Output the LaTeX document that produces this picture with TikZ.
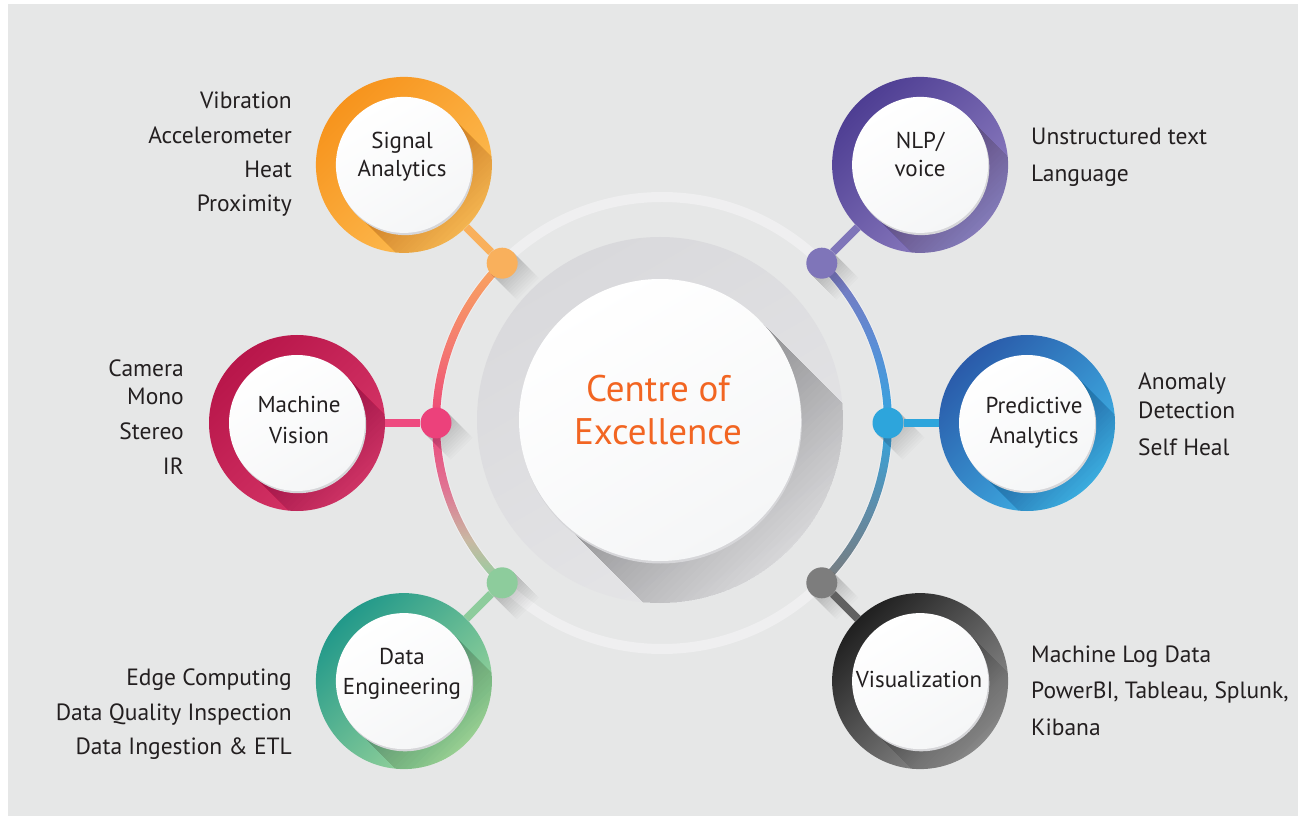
\documentclass[tikz,border=0pt]{standalone}
\usepackage{fontspec}
\setmainfont{PT Sans}
\usetikzlibrary{calc}

\definecolor{bgc}{HTML}{E6E7E7}
\definecolor{faint}{HTML}{EFEFF0}
\definecolor{discA}{HTML}{D9D9DC}
\definecolor{discB}{HTML}{E5E5E7}
\definecolor{rim}{HTML}{D6D6D9}
\definecolor{paper}{HTML}{F5F6F7}
\definecolor{txt}{HTML}{231F20}
\definecolor{coe}{HTML}{F26522}
% left half of the ring
\definecolor{laO}{HTML}{F9A65E}
\definecolor{laC}{HTML}{F47C70}
\definecolor{laM}{HTML}{EC4479}
\definecolor{laP}{HTML}{E07393}
\definecolor{laT}{HTML}{C8B8A2}
\definecolor{laG}{HTML}{8ED0A0}
% right half of the ring
\definecolor{raP}{HTML}{7E74BA}
\definecolor{raB}{HTML}{5B8ED6}
\definecolor{raC}{HTML}{33A5DF}
\definecolor{raS}{HTML}{5E8DAA}
\definecolor{raG}{HTML}{7A7B7C}
% branch colours
\definecolor{sigD}{HTML}{F7941D}\definecolor{sigL}{HTML}{FDBE55}\definecolor{sigDot}{HTML}{F9B05C}
\definecolor{mvD}{HTML}{B8164A}\definecolor{mvL}{HTML}{D8386A}\definecolor{mvDot}{HTML}{EC417B}\definecolor{mvLine}{HTML}{EE4B80}
\definecolor{deD}{HTML}{22998A}\definecolor{deL}{HTML}{A3D99C}\definecolor{deDot}{HTML}{8DCC9C}
\definecolor{nlpD}{HTML}{4E3E93}\definecolor{nlpL}{HTML}{8F80C2}\definecolor{nlpDot}{HTML}{7F75B9}
\definecolor{paD}{HTML}{2A5BAA}\definecolor{paL}{HTML}{40B6E8}\definecolor{paDot}{HTML}{2DA5DC}
\definecolor{visD}{HTML}{202020}\definecolor{visL}{HTML}{939393}\definecolor{visDot}{HTML}{7D7D7D}\definecolor{visLine}{HTML}{616161}

\pgfdeclareverticalshading{leftarc}{100bp}{color(0bp)=(laG); color(25bp)=(laG); color(32bp)=(laT); color(40bp)=(laP); color(50bp)=(laM); color(62bp)=(laC); color(75bp)=(laO); color(100bp)=(laO)}
\pgfdeclareverticalshading{rightarc}{100bp}{color(0bp)=(raG); color(25bp)=(raG); color(37bp)=(raS); color(50bp)=(raC); color(62bp)=(raB); color(75bp)=(raP); color(100bp)=(raP)}

% one branch: dot on the ring, connector and the ringed disc
% #1 id, #2 angle, #3 dark ring colour, #4 light ring colour, #5 dot colour, #6 connector colour
\newcommand\branch[6]{%
  \coordinate (d#1) at ($(C)+(#2:226)$);
  \node[circle, minimum size=176pt] (s#1) at ($(C)+(#2:365)$) {};
  \begin{scope}[shift={(d#1)}, rotate=-45]
    \foreach \k in {1,...,14} \fill[black, opacity=0.016] (0,-15.5) rectangle (\k*2.6, 15.5);
  \end{scope}
  \node[circle, minimum size=31pt, fill=#5] (p#1) at (d#1) {};
  \draw[line width=8pt, #6] (s#1) -- (p#1);
  \shade[top color=#3, bottom color=#4, shading angle=45] (s#1.center) circle[radius=88];
  \begin{scope}
    \clip (s#1.center) circle[radius=88];
    \begin{scope}[shift={(s#1.center)}, rotate=-45]
      \foreach \k in {1,...,24} \fill[black, opacity=0.009] (0,-68) rectangle (\k*4.5, 68);
    \end{scope}
  \end{scope}
  \fill[rim] ($(s#1.center)+(1.2,-2.2)$) circle[radius=68];
  \shade[top color=white, bottom color=paper, shading angle=30] (s#1.center) circle[radius=68];
}

\tikzset{
  lst/.style={font=\fontsize{23.5}{28}\selectfont, text=txt, inner sep=0pt},
  lbl/.style={font=\fontsize{23}{27}\selectfont, text=txt, inner sep=0pt, anchor=base},
  coretxt/.style={font=\fontsize{37}{44}\selectfont, text=coe, inner sep=0pt, anchor=base},
}

\begin{document}
\begin{tikzpicture}[x=1pt, y=1pt]
\useasboundingbox (0,0) rectangle (1300,820);
\fill[bgc] (8,4) rectangle (1298,816);

\coordinate (C) at (662,397);
\coordinate (W) at (660,400);

% pale outer track
\draw[faint, line width=10pt] (C) circle[radius=226];

% inner grey disc with the long shadow of the core
\shade[top color=discA, bottom color=discB, shading angle=30] (W) circle[radius=183];
\begin{scope}
  \clip (W) circle[radius=183];
  \begin{scope}[shift={(W)}, rotate=-45]
    \foreach \k in {1,...,40} \fill[black, opacity=0.008] (0,-141) rectangle (\k*5.5, 141);
  \end{scope}
\end{scope}
\fill[rim] ($(W)+(0.8,-2.5)$) circle[radius=141];
\node[circle, minimum size=282pt, inner sep=0pt, top color=white, bottom color=paper, shading angle=30] (core) at (W) {};

% coloured halves of the ring
\shade[shading=leftarc] ($(C)+(135:230)$) arc[start angle=135, end angle=225, radius=230]
  -- ($(C)+(225:222)$) arc[start angle=225, end angle=135, radius=222] -- cycle;
\shade[shading=rightarc] ($(C)+(-45:230)$) arc[start angle=-45, end angle=45, radius=230]
  -- ($(C)+(45:222)$) arc[start angle=45, end angle=-45, radius=222] -- cycle;

% branches
\branch{1}{135}{sigD}{sigL}{sigDot}{sigDot}
\branch{2}{180}{mvD}{mvL}{mvDot}{mvLine}
\branch{3}{225}{deD}{deL}{deDot}{deDot}
\branch{4}{45}{nlpD}{nlpL}{nlpDot}{nlpDot}
\branch{5}{0}{paD}{paL}{paDot}{paDot}
\branch{6}{-45}{visD}{visL}{visDot}{visLine}

% core title
\node[coretxt] (c1) at (658,418) {Centre of};
\node[coretxt] (c2) at (658,375) {Excellence};

% branch titles
\node[lbl] (l1a) at (402,671) {Signal};
\node[lbl] (l1b) at (402,643) {Analytics};
\node[lbl] (l2a) at (299,407) {Machine};
\node[lbl] (l2b) at (299,377) {Vision};
\node[lbl] (l3a) at (402,156) {Data};
\node[lbl] (l3b) at (402,126) {Engineering};
\node[lbl] (l4a) at (920,671) {NLP/};
\node[lbl] (l4b) at (920,643) {voice};
\node[lbl] (l5a) at (1034,406) {Predictive};
\node[lbl] (l5b) at (1034,377) {Analytics};
\node[lbl] (l6a) at (919,133) {Visualization};

% item lists
\node[lst, anchor=base east] (t1a) at (292,711) {Vibration};
\node[lst, anchor=base east] (t1b) at (292,676) {Accelerometer};
\node[lst, anchor=base east] (t1c) at (292,642) {Heat};
\node[lst, anchor=base east] (t1d) at (292,608) {Proximity};

\node[lst, anchor=base east] (t2a) at (184,443) {Camera};
\node[lst, anchor=base east] (t2b) at (184,415) {Mono};
\node[lst, anchor=base east] (t2c) at (184,381) {Stereo};
\node[lst, anchor=base east] (t2d) at (184,346) {IR};

\node[lst, anchor=base east] (t3a) at (292,135) {Edge Computing};
\node[lst, anchor=base east] (t3b) at (292,100) {Data Quality Inspection};
\node[lst, anchor=base east] (t3c) at (292,66) {Data Ingestion \& ETL};

\node[lst, anchor=base west] (t4a) at (1031,675) {Unstructured text};
\node[lst, anchor=base west] (t4b) at (1031,638) {Language};

\node[lst, anchor=base west] (t5a) at (1138,430) {Anomaly};
\node[lst, anchor=base west] (t5b) at (1138,401) {Detection};
\node[lst, anchor=base west] (t5c) at (1138,364) {Self Heal};

\node[lst, anchor=base west] (t6a) at (1031,158) {Machine Log Data};
\node[lst, anchor=base west] (t6b) at (1031,122) {PowerBI, Tableau, Splunk,};
\node[lst, anchor=base west] (t6c) at (1031,85) {Kibana};
\end{tikzpicture}
\end{document}
